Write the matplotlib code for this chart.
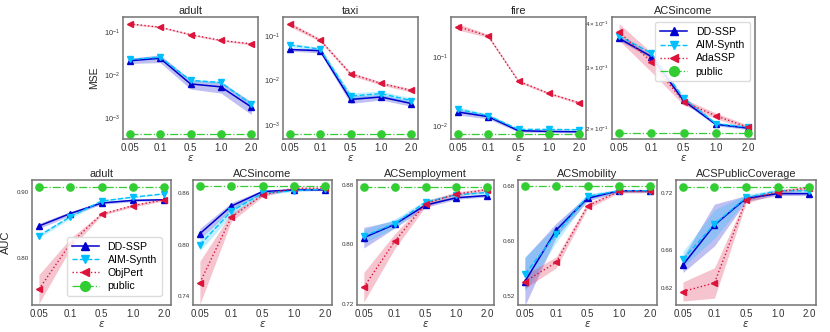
import numpy as np
import matplotlib.pyplot as plt

plt.rcParams['font.family'] = ['Liberation Sans', 'DejaVu Sans']
plt.rcParams['mathtext.fontset'] = 'dejavusans'

eps_labels = ["0.05", "0.1", "0.5", "1.0", "2.0"]

# ---- top row: MSE (mean, std) ----
mse_adult_dd = [0.0215, 0.0245, 0.0062, 0.0053, 0.0018]
mse_adult_dd_sd = [0.003, 0.005, 0.0015, 0.0015, 0.0006]
mse_adult_aim = [0.023, 0.026, 0.0075, 0.0067, 0.0021]
mse_adult_aim_sd = [0.002, 0.002, 0.0005, 0.0005, 0.0002]
mse_adult_ada = [0.155, 0.13, 0.087, 0.064, 0.053]
mse_adult_ada_sd = [0.008, 0.005, 0.004, 0.003, 0.003]
mse_adult_pub = [0.00043] * 5

mse_taxi_dd = [0.049, 0.046, 0.0037, 0.0042, 0.0030]
mse_taxi_dd_sd = [0.004, 0.005, 0.0007, 0.0006, 0.0004]
mse_taxi_aim = [0.062, 0.050, 0.0044, 0.0050, 0.0035]
mse_taxi_aim_sd = [0.005, 0.005, 0.0008, 0.0007, 0.0005]
mse_taxi_ada = [0.18, 0.08, 0.014, 0.0085, 0.0059]
mse_taxi_ada_sd = [0.02, 0.006, 0.0012, 0.0007, 0.0005]
mse_taxi_pub = [0.00061] * 5

mse_fire_dd = [0.0162, 0.0139, 0.0087, 0.0085, 0.0084]
mse_fire_dd_sd = [0.0015, 0.001, 0.0004, 0.0003, 0.0003]
mse_fire_aim = [0.0178, 0.0144, 0.0091, 0.0091, 0.0090]
mse_fire_aim_sd = [0.0015, 0.0008, 0.0003, 0.0003, 0.0003]
mse_fire_ada = [0.277, 0.203, 0.045, 0.030, 0.022]
mse_fire_ada_sd = [0.03, 0.01, 0.002, 0.001, 0.001]
mse_fire_pub = [0.0078] * 5

mse_inc_dd = [0.362, 0.321, 0.240, 0.205, 0.200]
mse_inc_dd_sd = [0.005, 0.004, 0.003, 0.002, 0.002]
mse_inc_aim = [0.368, 0.328, 0.244, 0.206, 0.201]
mse_inc_aim_sd = [0.004, 0.003, 0.003, 0.002, 0.002]
mse_inc_ada = [0.378, 0.310, 0.238, 0.217, 0.201]
mse_inc_ada_sd = [0.021, 0.02, 0.005, 0.004, 0.003]
mse_inc_pub = [0.193] * 5

# ---- bottom row: AUC (mean, std) ----
auc_adult_dd = [0.848, 0.867, 0.883, 0.887, 0.888]
auc_adult_dd_sd = [0.004, 0.003, 0.002, 0.002, 0.001]
auc_adult_aim = [0.833, 0.862, 0.886, 0.892, 0.897]
auc_adult_aim_sd = [0.003, 0.003, 0.002, 0.001, 0.001]
auc_adult_obj = [0.752, 0.821, 0.866, 0.879, 0.888]
auc_adult_obj_sd = [0.022, 0.008, 0.002, 0.002, 0.002]
auc_adult_pub = [0.907] * 5

auc_inc_dd = [0.813, 0.845, 0.862, 0.864, 0.864]
auc_inc_dd_sd = [0.006, 0.004, 0.002, 0.001, 0.001]
auc_inc_aim = [0.800, 0.839, 0.860, 0.863, 0.865]
auc_inc_aim_sd = [0.007, 0.005, 0.002, 0.001, 0.001]
auc_inc_obj = [0.756, 0.832, 0.858, 0.866, 0.866]
auc_inc_obj_sd = [0.025, 0.005, 0.002, 0.001, 0.001]
auc_inc_pub = [0.868] * 5

auc_emp_dd = [0.809, 0.827, 0.853, 0.863, 0.866]
auc_emp_dd_sd = [0.014, 0.005, 0.003, 0.002, 0.002]
auc_emp_aim = [0.811, 0.828, 0.857, 0.867, 0.870]
auc_emp_aim_sd = [0.009, 0.006, 0.003, 0.002, 0.002]
auc_emp_obj = [0.742, 0.804, 0.855, 0.868, 0.874]
auc_emp_obj_sd = [0.02, 0.01, 0.004, 0.003, 0.002]
auc_emp_pub = [0.877] * 5

auc_mob_dd = [0.541, 0.616, 0.662, 0.673, 0.673]
auc_mob_dd_sd = [0.035, 0.01, 0.004, 0.002, 0.002]
auc_mob_aim = [0.552, 0.610, 0.665, 0.673, 0.673]
auc_mob_aim_sd = [0.025, 0.012, 0.004, 0.002, 0.002]
auc_mob_obj = [0.541, 0.569, 0.651, 0.672, 0.672]
auc_mob_obj_sd = [0.01, 0.008, 0.004, 0.002, 0.002]
auc_mob_pub = [0.680] * 5

auc_pc_dd = [0.644, 0.686, 0.714, 0.719, 0.719]
auc_pc_dd_sd = [0.008, 0.022, 0.003, 0.002, 0.002]
auc_pc_aim = [0.650, 0.687, 0.715, 0.722, 0.722]
auc_pc_aim_sd = [0.008, 0.015, 0.003, 0.002, 0.002]
auc_pc_obj = [0.616, 0.625, 0.712, 0.721, 0.725]
auc_pc_obj_sd = [0.01, 0.016, 0.003, 0.002, 0.002]
auc_pc_pub = [0.726] * 5

DD = dict(color='#0000CD', ls='-', marker='^', lw=1.1)
AIM = dict(color='#00BFFF', ls='--', marker='v', lw=1.0)
RED = dict(color='#DC143C', ls=':', marker='<', lw=1.0)
PUB = dict(color='#32CD32', ls='-.', marker='o', lw=0.9)

x = np.arange(len(eps_labels))


def draw(ax, series, red_name):
    names = ['DD-SSP', 'AIM-Synth', red_name, 'public']
    for (mean, sd), st, name in zip(series, [DD, AIM, RED, PUB], names):
        mean = np.array(mean)
        ms = 5.2 if st['marker'] == 'o' else 4.6
        ax.plot(x, mean, label=name, markersize=ms, **st)
        if sd is not None:
            sd = np.array(sd)
            ax.fill_between(x, mean - sd, mean + sd, color=st['color'], alpha=0.25, lw=0)


def style(ax, title):
    ax.set_title(title, fontsize=7.9, pad=2, color='0.15')
    ax.set_xticks(x)
    ax.set_xticklabels(eps_labels)
    ax.set_xlim(-0.22, 4.22)
    ax.tick_params(axis='x', labelsize=7, length=0, pad=3, colors='0.2')
    ax.tick_params(axis='y', which='both', labelsize=4.5, length=0, pad=2, colors='0.2')
    ax.set_xlabel(r'$\epsilon$', fontsize=7.5, labelpad=0, color='0.2')
    for s in ax.spines.values():
        s.set_color('0.45')
        s.set_linewidth(1.1)


def add_legend(ax, **kw):
    ax.legend(fontsize=7.6, handlelength=2.6, borderpad=0.45, labelspacing=0.3,
              markerscale=1.35, fancybox=True, framealpha=0.9, edgecolor='0.85', **kw)


fig = plt.figure(figsize=(8.3, 3.32), dpi=100)

# top row axes
top_pos = [(123, 258), (283, 418), (451, 586), (612, 755)]
top_axes = [fig.add_axes([l / 830, 1 - 139 / 332, (r - l) / 830, 122 / 332]) for l, r in top_pos]

top_data = [
    ("adult", [(mse_adult_dd, mse_adult_dd_sd), (mse_adult_aim, mse_adult_aim_sd),
               (mse_adult_ada, mse_adult_ada_sd), (mse_adult_pub, None)], (10 ** -3.49, 10 ** -0.65)),
    ("taxi", [(mse_taxi_dd, mse_taxi_dd_sd), (mse_taxi_aim, mse_taxi_aim_sd),
              (mse_taxi_ada, mse_taxi_ada_sd), (mse_taxi_pub, None)], (10 ** -3.32, 10 ** -0.58)),
    ("fire", [(mse_fire_dd, mse_fire_dd_sd), (mse_fire_aim, mse_fire_aim_sd),
              (mse_fire_ada, mse_fire_ada_sd), (mse_fire_pub, None)], (10 ** -2.18, 10 ** -0.42)),
    ("ACSincome", [(mse_inc_dd, mse_inc_dd_sd), (mse_inc_aim, mse_inc_aim_sd),
                   (mse_inc_ada, mse_inc_ada_sd), (mse_inc_pub, None)], (0.186, 0.417)),
]

for ax, (title, series, ylim) in zip(top_axes, top_data):
    draw(ax, series, 'AdaSSP')
    ax.set_yscale('log')
    ax.set_ylim(*ylim)
    style(ax, title)
    ax.tick_params(axis='y', which='both', labelsize=5.3)

top_axes[3].tick_params(axis='y', which='both', labelsize=4.6)
top_axes[0].set_ylabel('MSE', fontsize=7.5, color='0.15')
add_legend(top_axes[3], loc='upper right')

# bottom row axes
bot_pos = [(32, 171), (193, 332), (357, 494), (518, 657), (676, 816)]
bot_axes = [fig.add_axes([l / 830, 1 - 305 / 332, (r - l) / 830, 125 / 332]) for l, r in bot_pos]

bot_data = [
    ("adult", [(auc_adult_dd, auc_adult_dd_sd), (auc_adult_aim, auc_adult_aim_sd),
               (auc_adult_obj, auc_adult_obj_sd), (auc_adult_pub, None)], (0.728, 0.918), [0.80, 0.90]),
    ("ACSincome", [(auc_inc_dd, auc_inc_dd_sd), (auc_inc_aim, auc_inc_aim_sd),
                   (auc_inc_obj, auc_inc_obj_sd), (auc_inc_pub, None)], (0.730, 0.8755), [0.74, 0.80, 0.86]),
    ("ACSemployment", [(auc_emp_dd, auc_emp_dd_sd), (auc_emp_aim, auc_emp_aim_sd),
                       (auc_emp_obj, auc_emp_obj_sd), (auc_emp_pub, None)], (0.718, 0.887), [0.72, 0.80, 0.88]),
    ("ACSmobility", [(auc_mob_dd, auc_mob_dd_sd), (auc_mob_aim, auc_mob_aim_sd),
                     (auc_mob_obj, auc_mob_obj_sd), (auc_mob_pub, None)], (0.507, 0.6887), [0.52, 0.60, 0.68]),
    ("ACSPublicCoverage", [(auc_pc_dd, auc_pc_dd_sd), (auc_pc_aim, auc_pc_aim_sd),
                           (auc_pc_obj, auc_pc_obj_sd), (auc_pc_pub, None)], (0.6018, 0.7334), [0.62, 0.66, 0.72]),
]

for ax, (title, series, ylim, yt) in zip(bot_axes, bot_data):
    draw(ax, series, 'ObjPert')
    ax.set_ylim(*ylim)
    ax.set_yticks(yt)
    ax.set_yticklabels(["%.2f" % v for v in yt])
    style(ax, title)

bot_axes[0].set_ylabel('AUC', fontsize=8, color='0.15', labelpad=4)
add_legend(bot_axes[0], loc='lower right', bbox_to_anchor=(0.97, 0.03))

fig.savefig('out.png', dpi=100)
